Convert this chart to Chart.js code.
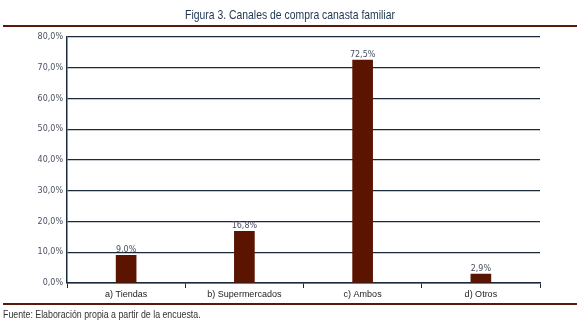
<!DOCTYPE html>
<html>
<head>
<meta charset="utf-8">
<script src="https://cdn.jsdelivr.net/npm/chart.js@4/dist/chart.umd.min.js"></script>
<style>
  html, body { margin: 0; padding: 0; background: #fff; }
  #wrap { position: relative; width: 580px; height: 325px; overflow: hidden; }
  #title {
    position: absolute; left: 0; top: 7px; width: 580px; text-align: center;
    font-family: "Liberation Sans", sans-serif;
    font-size: 13px; color: #1f3550;
    transform: scaleX(0.8); transform-origin: 290px 0;
  }
  .rule { position: absolute; left: 3px; width: 574px; height: 0; border-top: 2px solid #5a1a0a; }
  #footer {
    position: absolute; left: 3px; top: 308px; white-space: nowrap;
    font-family: "Liberation Sans", sans-serif;
    font-size: 11px; color: #333;
    transform: scaleX(0.8); transform-origin: 0 0;
  }
  #chart { position: absolute; left: 0; top: 0; }
</style>
</head>
<body>
<div id="wrap">
  <canvas id="chart" width="580" height="325"></canvas>
  <div id="title">Figura 3. Canales de compra canasta familiar</div>
  <div class="rule" style="top:25px"></div>
  <div class="rule" style="top:303px"></div>
  <div id="footer">Fuente: Elaboración propia a partir de la encuesta.</div>
</div>
<script>
const categories = ["a) Tiendas", "b) Supermercados", "c) Ambos", "d) Otros"];
const shares = [9.0, 16.8, 72.5, 2.9];
const yTicks = [0, 10, 20, 30, 40, 50, 60, 70, 80];

function pct(v) {
    return v.toFixed(1).replace(".", ",") + "%";
}

// value labels above each bar
const barLabels = {
    id: "barLabels",
    afterDatasetsDraw(chart) {
        const ctx = chart.ctx;
        const meta = chart.getDatasetMeta(0);
        ctx.save();
        ctx.font = "8px 'DejaVu Sans'";
        ctx.fillStyle = "#4a5060";
        ctx.textAlign = "center";
        ctx.textBaseline = "bottom";
        meta.data.forEach((bar, i) => {
            ctx.fillText(pct(shares[i]), bar.x, bar.y - 1);
        });
        ctx.restore();
    }
};

new Chart(document.getElementById("chart"), {
    type: "bar",
    data: {
        labels: categories,
        datasets: [{
            data: shares,
            backgroundColor: "#5a1400",
            borderWidth: 0,
            barThickness: 20
        }]
    },
    options: {
        responsive: false,
        animation: false,
        layout: { padding: { left: 0, right: 40, top: 37, bottom: 22 } },
        plugins: {
            legend: { display: false },
            tooltip: { enabled: false }
        },
        scales: {
            x: {
                offset: true,
                grid: {
                    offset: true,
                    drawOnChartArea: false,
                    drawTicks: true,
                    tickLength: 5,
                    color: "#1a2a3a"
                },
                border: { color: "#1a2a3a", width: 1.5 },
                ticks: {
                    color: "#222",
                    padding: 1,
                    font: { family: "'Liberation Sans', sans-serif", size: 9 }
                },
                afterFit(scale) { scale.height = 20; }
            },
            y: {
                min: 0,
                max: 80,
                afterBuildTicks(scale) {
                    scale.ticks = yTicks.map(v => ({ value: v }));
                },
                grid: {
                    color: "#1a2a3a",
                    lineWidth: 1.2,
                    drawTicks: false
                },
                border: { color: "#1a2a3a", width: 1.5 },
                ticks: {
                    color: "#4a5060",
                    padding: 4,
                    font: { family: "'DejaVu Sans', sans-serif", size: 8 },
                    callback: v => pct(v)
                },
                afterFit(scale) { scale.width = 67; }
            }
        }
    },
    plugins: [barLabels]
});
</script>
</body>
</html>
